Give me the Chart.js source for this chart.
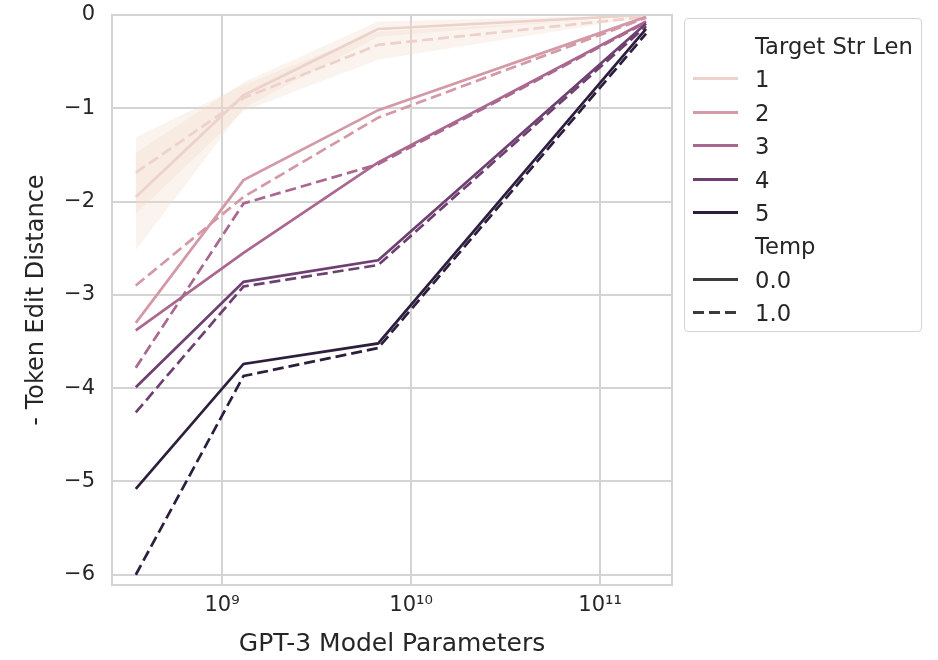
<!DOCTYPE html>
<html>
<head>
<meta charset="utf-8">
<script src="https://cdn.jsdelivr.net/npm/chart.js@4.4.1/dist/chart.umd.min.js"></script>
<style>
  body { margin: 0; background: #fff; font-family: "DejaVu Sans", sans-serif; }
  #wrap { position: relative; width: 938px; height: 660px; }
  #legend {
    position: absolute; left: 684px; top: 18px; width: 238px; height: 314px;
    border: 1.5px solid #d4d4d4; border-radius: 4px; box-sizing: border-box;
    color: #262626; font-size: 22.7px;
  }
  .row { position: absolute; left: 0; height: 30px; line-height: 30px; }
  .row span { position: absolute; left: 70px; white-space: nowrap; }
  .row i { position: absolute; left: 8px; top: 13px; width: 45px; height: 3px; }
</style>
</head>
<body>
<div id="wrap">
  <canvas id="chart" width="938" height="660"></canvas>
  <div id="legend"></div>
</div>
<script>
const params = [3.5e8, 1.3e9, 6.7e9, 1.75e11];
const strLens = ["1", "2", "3", "4", "5"];
const temps = ["0.0", "1.0"];
const colors = ["#edd1cb", "#d499a7", "#aa678f", "#6e4071", "#2d1e3e"];

// - token edit distance, temp 0.0 / temp 1.0
const len1Temp0 = [-1.95, -0.86, -0.15, 0];
const len1Temp1 = [-1.69, -0.89, -0.32, -0.02];
const len2Temp0 = [-3.3, -1.77, -1.02, -0.02];
const len2Temp1 = [-2.9, -1.95, -1.1, -0.03];
const len3Temp0 = [-3.38, -2.55, -1.58, -0.07];
const len3Temp1 = [-3.78, -2.02, -1.6, -0.08];
const len4Temp0 = [-3.99, -2.86, -2.63, -0.09];
const len4Temp1 = [-4.26, -2.91, -2.68, -0.12];
const len5Temp0 = [-5.08, -3.74, -3.52, -0.15];
const len5Temp1 = [-6.0, -3.87, -3.57, -0.2];

// confidence bands for length 1
const len1Temp0Low = [-2.52, -1.0, -0.23, 0];
const len1Temp0High = [-1.48, -0.72, -0.07, 0];
const len1Temp1Low = [-2.13, -1.03, -0.48, -0.02];
const len1Temp1High = [-1.31, -0.75, -0.18, -0.02];

const xTicks = [1e9, 1e10, 1e11];
const yTicks = [-6, -5, -4, -3, -2, -1, 0];

const temp0 = [len1Temp0, len2Temp0, len3Temp0, len4Temp0, len5Temp0];
const temp1 = [len1Temp1, len2Temp1, len3Temp1, len4Temp1, len5Temp1];
const dash = [11, 5];

const pts = arr => arr.map((v, i) => ({x: params[i], y: v}));

const datasets = [];
[[len1Temp0Low, len1Temp0High], [len1Temp1Low, len1Temp1High]].forEach(([lo, hi]) => {
    datasets.push({data: pts(lo), borderWidth: 0, pointRadius: 0, fill: false, order: 200});
    datasets.push({data: pts(hi), borderWidth: 0, pointRadius: 0, fill: '-1',
        backgroundColor: 'rgba(238, 214, 200, 0.3)', order: 200});
});
strLens.forEach((s, i) => {
    datasets.push({data: pts(temp0[i]), borderColor: colors[i], borderWidth: 2.7,
        pointRadius: 0, fill: false, order: 100 - i * 2});
    datasets.push({data: pts(temp1[i]), borderColor: colors[i], borderWidth: 2.7,
        borderDash: dash, pointRadius: 0, fill: false, order: 99 - i * 2});
});

const frame = {
    id: 'frame',
    afterDraw(chart) {
        const a = chart.chartArea, ctx = chart.ctx;
        ctx.save();
        ctx.strokeStyle = '#d4d4d4';
        ctx.lineWidth = 2;
        ctx.strokeRect(a.left, a.top, a.right - a.left, a.bottom - a.top);
        ctx.restore();
    }
};

const sup = {"0": "⁰", "1": "¹", "2": "²", "3": "³", "4": "⁴", "5": "⁵", "6": "⁶", "7": "⁷", "8": "⁸", "9": "⁹"};
const font = {family: "'DejaVu Sans', sans-serif", size: 21};

new Chart(document.getElementById("chart").getContext("2d"), {
    type: 'line',
    data: {datasets: datasets},
    options: {
        responsive: false,
        animation: false,
        layout: {padding: {left: 0, right: 266, top: 15, bottom: 0}},
        plugins: {legend: {display: false}, tooltip: {enabled: false}},
        scales: {
            x: {
                type: 'logarithmic',
                min: 2.62e8,
                max: 2.4e11,
                afterBuildTicks: s => { s.ticks = xTicks.map(v => ({value: v})); },
                afterFit: s => { s.height = 75; s.paddingLeft = 0; s.paddingRight = 0; },
                grid: {color: '#d4d4d4', lineWidth: 2, drawTicks: false},
                border: {display: false},
                ticks: {
                    color: '#262626', font: font, padding: 8, maxRotation: 0,
                    callback: v => '10' + String(Math.round(Math.log10(v))).split('').map(c => sup[c]).join('')
                },
                title: {display: true, text: 'GPT-3 Model Parameters', color: '#262626',
                    font: {family: font.family, size: 25}, padding: {top: 0, bottom: 1}}
            },
            y: {
                min: -6.11,
                max: 0,
                afterBuildTicks: s => { s.ticks = yTicks.map(v => ({value: v})); },
                afterFit: s => { s.width = 112; s.paddingTop = 0; s.paddingBottom = 0; },
                grid: {color: '#d4d4d4', lineWidth: 2, drawTicks: false},
                border: {display: false},
                ticks: {
                    color: '#262626', font: font, padding: 17,
                    callback: v => v < 0 ? '\u2212' + Math.abs(v) : String(v)
                },
                title: {display: true, text: '- Token Edit Distance', color: '#262626',
                    font: {family: font.family, size: 24}, padding: {top: 22, bottom: 0}}
            }
        }
    },
    plugins: [frame]
});

// legend built from the same arrays
const legend = document.getElementById("legend");
const rows = [{label: "Target Str Len"}];
strLens.forEach((s, i) => rows.push({label: s, color: colors[i]}));
rows.push({label: "Temp"});
temps.forEach((t, i) => rows.push({label: t, color: '#3a3a3a', dashed: i === 1}));
rows.forEach((r, i) => {
    const row = document.createElement("div");
    row.className = "row";
    row.style.top = (12 + i * 33.4) + "px";
    let bg = '';
    if (r.color) {
        bg = r.dashed
            ? `repeating-linear-gradient(to right, ${r.color} 0 ${dash[0]}px, transparent ${dash[0]}px ${dash[0] + dash[1]}px)`
            : r.color;
    }
    row.innerHTML = (r.color ? `<i style="background:${bg}"></i>` : "") + `<span>${r.label}</span>`;
    legend.appendChild(row);
});
</script>
</body>
</html>
